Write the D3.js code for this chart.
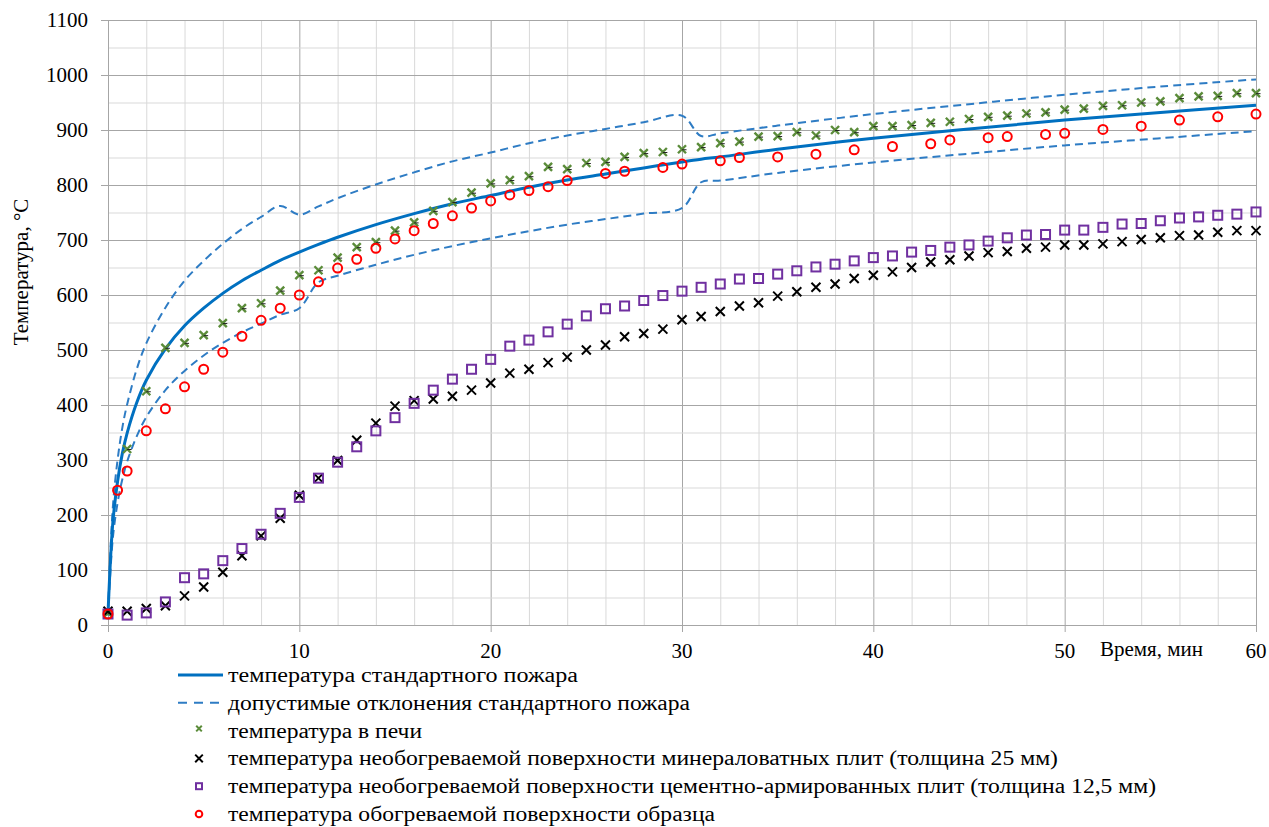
<!DOCTYPE html>
<meta charset="utf-8">
<style>
body { margin: 0; background: #fff; }
svg { background-color: #fff; }
text { font-family: "Liberation Serif", LiberationSerif, "DejaVu Serif", DejaVuSerif, "Noto Serif", "Times New Roman", Tinos, serif; }
.grid-minor { stroke: #d9d9d9; stroke-width: 1; }
.grid-major { stroke: #a6a6a6; stroke-width: 1; }
.tick-label { font-size: 21px; fill: #000; }
.legend-text { font-size: 20px; fill: #000; }
</style>
<body>
<svg id="chart"></svg>
<script src="https://d3js.org/d3.v7.min.js" charset="utf-8"></script>
<script>

// standard fire curve and its allowed deviations
var stdTime  = [0, 0.25, 0.5, 0.75, 1, 1.5, 2, 3, 4, 5, 6, 7, 8, 9, 10, 11, 12, 14, 16, 18, 20, 22, 24, 26, 28, 30, 31, 32, 35, 40, 45, 50, 55, 60];
var stdTemp  = [20, 185, 261, 312, 349, 404, 445, 502, 544, 576, 603, 626, 645, 663, 678, 692, 705, 728, 748, 766, 781, 796, 809, 820, 831, 842, 847, 851, 865, 885, 902, 918, 932, 945];
var upperTemp = [23, 213, 300, 359, 401, 465, 512, 577, 626, 662, 693, 720, 742, 762, 746, 761, 776, 801, 823, 843, 859, 876, 890, 902, 914, 926, 889, 894, 908, 929, 947, 964, 979, 992];
var lowerTemp = [17, 157, 222, 265, 297, 343, 378, 427, 462, 490, 513, 532, 548, 564, 576, 623, 635, 655, 673, 689, 703, 716, 728, 738, 748, 758, 805, 808, 822, 841, 857, 872, 885, 898];

// measurements, one per minute
var minutes = [0, 1, 2, 3, 4, 5, 6, 7, 8, 9, 10, 11, 12, 13, 14, 15, 16, 17, 18, 19, 20,
  21, 22, 23, 24, 25, 26, 27, 28, 29, 30, 31, 32, 33, 34, 35, 36, 37, 38, 39, 40,
  41, 42, 43, 44, 45, 46, 47, 48, 49, 50, 51, 52, 53, 54, 55, 56, 57, 58, 59, 60];
var furnaceTemp = [22, 320, 425, 504, 513, 527, 549, 576, 585, 608, 636, 645, 668, 687, 696, 717, 732, 753, 769, 786, 803,
  809, 816, 833, 829, 840, 842, 851, 858, 860, 865, 869, 876, 879, 888, 889, 896, 890, 900, 896, 907,
  907, 909, 913, 915, 920, 924, 926, 930, 932, 937, 939, 944, 945, 950, 952, 958, 961, 962, 967, 967];
var woolTemp = [25, 25, 30, 35, 53, 69, 96, 126, 162, 194, 236, 267, 299, 336, 367, 398, 408, 411, 416, 427, 440,
  458, 465, 477, 487, 500, 509, 524, 530, 538, 555, 561, 570, 580, 586, 598, 606, 614, 620, 630, 636,
  642, 650, 660, 664, 671, 677, 679, 685, 687, 691, 691, 693, 697, 701, 704, 708, 709, 714, 717, 717];
var cementTemp = [20, 18, 22, 42, 86, 93, 117, 139, 165, 203, 232, 267, 296, 324, 353, 377, 403, 427, 447, 465, 483,
  507, 518, 533, 547, 562, 575, 580, 590, 599, 607, 614, 620, 629, 630, 638, 644, 651, 656, 662, 668,
  671, 678, 681, 687, 691, 698, 704, 709, 710, 718, 718, 723, 729, 730, 735, 740, 742, 745, 747, 751];

// heated surface of the sample (irregular time steps)
var sampleTime = [0, 0.5, 1, 2, 3, 4, 5, 6, 7, 8, 9, 10, 11, 12, 13, 14, 15, 16, 17, 18, 19, 20, 21, 22, 23, 24,
  26, 27, 29, 30, 32, 33, 35, 37, 39, 41, 43, 44, 46, 47, 49, 50, 52, 54, 56, 58, 60];
var sampleTemp = [20, 245, 280, 353, 393, 433, 465, 496, 525, 554, 576, 600, 624, 649, 665, 685, 702, 717, 730, 744, 758, 771, 782, 790, 797, 808,
  821, 825, 832, 838, 844, 850, 851, 856, 864, 870, 875, 882, 886, 888, 892, 894, 901, 907, 918, 924, 929];

var xTicks = [0, 10, 20, 30, 40, 50, 60];
var yTicks = [0, 100, 200, 300, 400, 500, 600, 700, 800, 900, 1000, 1100];

var legendLabels = [
  "температура стандартного пожара",
  "допустимые отклонения стандартного пожара",
  "температура в печи",
  "температура необогреваемой поверхности минераловатных плит (толщина 25 мм)",
  "температура необогреваемой поверхности цементно-армированных плит (толщина 12,5 мм)",
  "температура обогреваемой поверхности образца"
];
var legendWidths = [350, 462, 194, 830, 928, 487];

var width = 1269, height = 827;
var margin = {top: 20, right: 13, bottom: 202, left: 108};

var svg = d3.select("#chart")
    .attr("width", width)
    .attr("height", height);

var x = d3.scaleLinear().domain([0, 60]).range([margin.left, width - margin.right]);
var y = d3.scaleLinear().domain([0, 1100]).range([height - margin.bottom, margin.top]);

var blue = "#0070C0", dashBlue = "#2E7CC4", green = "#5B8C3A", purple = "#7030A0", red = "#FF0000";

// grid
var grid = svg.append("g");
grid.selectAll(".vx")
  .data(d3.range(2, 61, 2))
  .enter().append("line")
    .attr("class", function(d) { return d % 10 === 0 ? "grid-major" : "grid-minor"; })
    .attr("x1", function(d) { return x(d) + 0.5; })
    .attr("x2", function(d) { return x(d) + 0.5; })
    .attr("y1", y(1100))
    .attr("y2", y(0));
grid.selectAll(".hy")
  .data(d3.range(50, 1101, 50))
  .enter().append("line")
    .attr("class", function(d) { return d % 100 === 0 ? "grid-major" : "grid-minor"; })
    .attr("x1", function(d) { return d % 100 === 0 ? x(0) - 7 : x(0); })
    .attr("x2", x(60))
    .attr("y1", function(d) { return y(d) + 0.5; })
    .attr("y2", function(d) { return y(d) + 0.5; });

// axes lines
svg.append("line").attr("class", "grid-major")
  .attr("x1", x(0) + 0.5).attr("x2", x(0) + 0.5).attr("y1", y(1100)).attr("y2", y(0) + 7);
svg.append("line").attr("class", "grid-major")
  .attr("x1", x(0) - 7).attr("x2", x(60)).attr("y1", y(0) + 0.5).attr("y2", y(0) + 0.5);
svg.selectAll(".xtick")
  .data(xTicks)
  .enter().append("line")
    .attr("class", "grid-major")
    .attr("x1", function(d) { return x(d) + 0.5; })
    .attr("x2", function(d) { return x(d) + 0.5; })
    .attr("y1", y(0))
    .attr("y2", y(0) + 7);

// tick labels
svg.selectAll(".ylab")
  .data(yTicks)
  .enter().append("text")
    .attr("class", "tick-label")
    .attr("x", x(0) - 20)
    .attr("y", function(d) { return y(d) + 7; })
    .attr("text-anchor", "end")
    .text(function(d) { return d; });

svg.selectAll(".xlab")
  .data(xTicks)
  .enter().append("text")
    .attr("class", "tick-label")
    .attr("x", function(d) { return x(d); })
    .attr("y", y(0) + 33)
    .attr("text-anchor", "middle")
    .text(function(d) { return d; });

svg.append("text")
  .attr("class", "tick-label")
  .attr("x", 1100)
  .attr("y", y(0) + 31)
  .text("Время, мин");

svg.append("text")
  .attr("class", "tick-label")
  .attr("transform", "translate(28," + 272 + ") rotate(-90)")
  .attr("text-anchor", "middle")
  .text("Температура, °C");

// curves
var line = d3.line()
  .x(function(d) { return x(d[0]); })
  .y(function(d) { return y(d[1]); })
  .curve(d3.curveCatmullRom);

svg.append("path")
  .datum(d3.zip(stdTime, upperTemp))
  .attr("d", line)
  .attr("fill", "none").attr("stroke", dashBlue).attr("stroke-width", 2).attr("stroke-dasharray", "8,5");
svg.append("path")
  .datum(d3.zip(stdTime, lowerTemp))
  .attr("d", line)
  .attr("fill", "none").attr("stroke", dashBlue).attr("stroke-width", 2).attr("stroke-dasharray", "8,5");
svg.append("path")
  .datum(d3.zip(stdTime, stdTemp))
  .attr("d", line)
  .attr("fill", "none").attr("stroke", blue).attr("stroke-width", 3);

// markers
function cross(g, s, color, w) {
  g.append("path")
    .attr("d", "M" + (-s) + "," + (-s) + "L" + s + "," + s + "M" + (-s) + "," + s + "L" + s + "," + (-s))
    .attr("stroke", color).attr("stroke-width", w).attr("fill", "none");
}

svg.selectAll(".furnace")
  .data(d3.zip(minutes, furnaceTemp))
  .enter().append("g")
    .attr("transform", function(d) { return "translate(" + x(d[0]) + "," + y(d[1]) + ")"; })
    .each(function() {
      var g = d3.select(this);
      cross(g, 4, green, 2.4);
      g.append("path").attr("d", "M0,0.5L4.5,0.5").attr("stroke", "#222").attr("stroke-width", 1);
    });

svg.selectAll(".wool")
  .data(d3.zip(minutes, woolTemp))
  .enter().append("g")
    .attr("transform", function(d) { return "translate(" + x(d[0]) + "," + y(d[1]) + ")"; })
    .each(function() { cross(d3.select(this), 4.5, "#000", 2); });

svg.selectAll(".cement")
  .data(d3.zip(minutes, cementTemp))
  .enter().append("rect")
    .attr("x", function(d) { return x(d[0]) - 4.5; })
    .attr("y", function(d) { return y(d[1]) - 4.5; })
    .attr("width", 9).attr("height", 9)
    .attr("fill", "none").attr("stroke", purple).attr("stroke-width", 2);

svg.selectAll(".sample")
  .data(d3.zip(sampleTime, sampleTemp))
  .enter().append("circle")
    .attr("cx", function(d) { return x(d[0]); })
    .attr("cy", function(d) { return y(d[1]); })
    .attr("r", 4.5)
    .attr("fill", "none").attr("stroke", red).attr("stroke-width", 2);

// legend
var legend = svg.append("g").attr("transform", "translate(178,675)");
var rowH = 27.8;
var rows = legend.selectAll(".row")
  .data(legendLabels)
  .enter().append("g")
    .attr("transform", function(d, i) { return "translate(0," + (i * rowH) + ")"; });

rows.append("text")
  .attr("class", "legend-text")
  .attr("x", 50)
  .attr("y", 7)
  .attr("textLength", function(d, i) { return legendWidths[i]; })
  .attr("lengthAdjust", "spacingAndGlyphs")
  .text(function(d) { return d; });

rows.each(function(d, i) {
  var g = d3.select(this);
  if (i === 0) {
    g.append("line").attr("x1", 0).attr("x2", 45).attr("stroke", blue).attr("stroke-width", 3);
  } else if (i === 1) {
    g.append("line").attr("x1", 0).attr("x2", 45).attr("stroke", dashBlue).attr("stroke-width", 2).attr("stroke-dasharray", "9,7");
  } else if (i === 2) {
    var m = g.append("g").attr("transform", "translate(21,-2)");
    cross(m, 2.8, green, 2);
  } else if (i === 3) {
    var m = g.append("g").attr("transform", "translate(21,0)");
    cross(m, 3.8, "#000", 2);
  } else if (i === 4) {
    g.append("rect").attr("x", 18).attr("y", -3).attr("width", 6).attr("height", 6)
      .attr("fill", "none").attr("stroke", purple).attr("stroke-width", 2);
  } else {
    g.append("circle").attr("cx", 21).attr("cy", 0).attr("r", 3.3)
      .attr("fill", "none").attr("stroke", red).attr("stroke-width", 2);
  }
});

</script>
</body>
